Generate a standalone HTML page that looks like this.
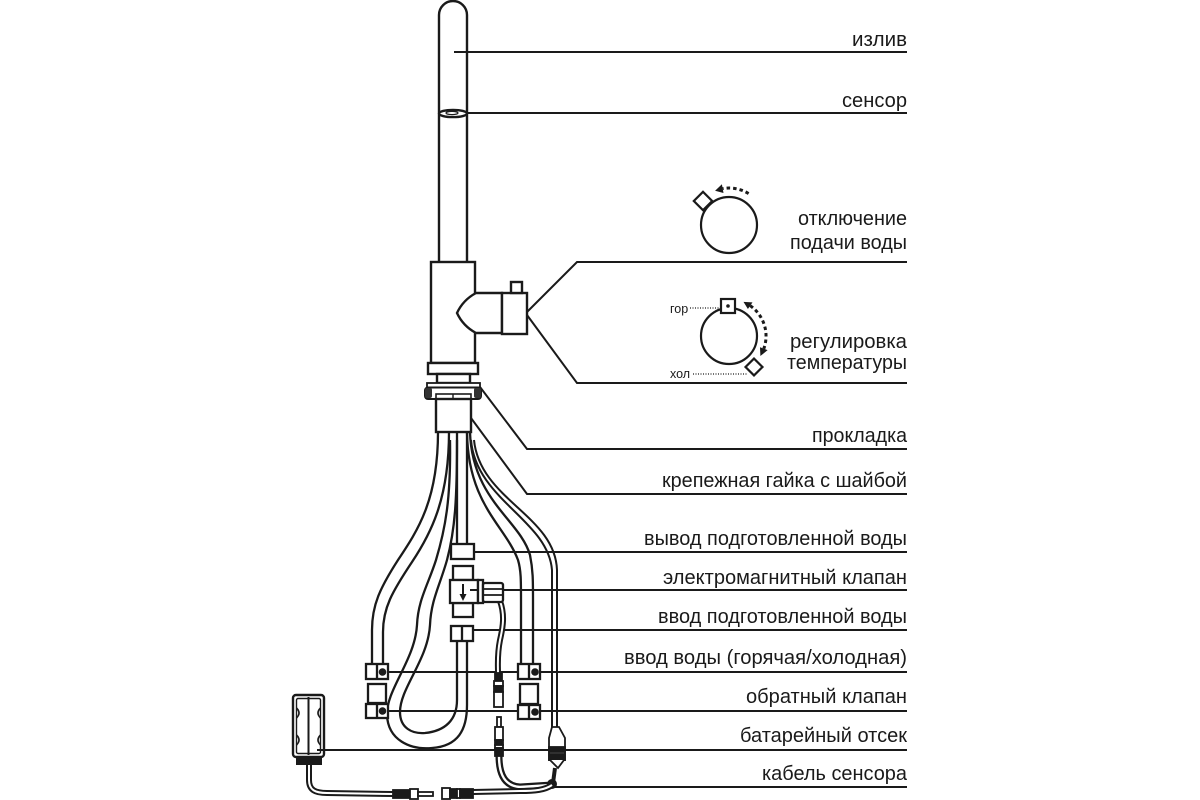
<!DOCTYPE html>
<html><head><meta charset="utf-8">
<style>
html,body{margin:0;padding:0;background:#fff;}
svg{display:block;}
text{font-family:"Liberation Sans","DejaVu Sans",sans-serif;fill:#1a1a1a;}
</style></head><body>
<svg width="1200" height="800" viewBox="0 0 1200 800" xmlns="http://www.w3.org/2000/svg">
<rect width="1200" height="800" fill="#fff"/>

<!-- label leader lines -->
<g stroke="#1a1a1a" stroke-width="2" fill="none">
  <path d="M454,52 H907"/>
  <path d="M467,113 H907"/>
  <path d="M527,312 L577,262 H907"/>
  <path d="M527,315 L577,383 H907"/>
  <path d="M480,387 L527,449 H907"/>
  <path d="M457,399 L527,494 H907"/>
  <path d="M463,552 H907"/>
  <path d="M470,590 H907"/>
  <path d="M472,630 H907"/>
  <path d="M382,672 H907"/>
  <path d="M382,711 H907"/>
  <path d="M317,750 H907"/>
  <path d="M552,787 H907"/>
</g>

<!-- labels -->
<g font-size="20">
  <text x="852" y="46" textLength="55" lengthAdjust="spacingAndGlyphs">излив</text>
  <text x="842" y="107" textLength="65" lengthAdjust="spacingAndGlyphs">сенсор</text>
  <text x="798" y="225" textLength="109" lengthAdjust="spacingAndGlyphs">отключение</text>
  <text x="790" y="249" textLength="117" lengthAdjust="spacingAndGlyphs">подачи воды</text>
  <text x="790" y="348" textLength="117" lengthAdjust="spacingAndGlyphs">регулировка</text>
  <text x="787" y="369" textLength="120" lengthAdjust="spacingAndGlyphs">температуры</text>
  <text x="812" y="442" textLength="95" lengthAdjust="spacingAndGlyphs">прокладка</text>
  <text x="662" y="487" textLength="245" lengthAdjust="spacingAndGlyphs">крепежная гайка с шайбой</text>
  <text x="644" y="545" textLength="263" lengthAdjust="spacingAndGlyphs">вывод подготовленной воды</text>
  <text x="663" y="584" textLength="244" lengthAdjust="spacingAndGlyphs">электромагнитный клапан</text>
  <text x="658" y="623" textLength="249" lengthAdjust="spacingAndGlyphs">ввод подготовленной воды</text>
  <text x="624" y="664" textLength="283" lengthAdjust="spacingAndGlyphs">ввод воды (горячая/холодная)</text>
  <text x="746" y="703" textLength="161" lengthAdjust="spacingAndGlyphs">обратный клапан</text>
  <text x="740" y="742" textLength="167" lengthAdjust="spacingAndGlyphs">батарейный отсек</text>
  <text x="762" y="780" textLength="145" lengthAdjust="spacingAndGlyphs">кабель сенсора</text>
</g>

<!-- dial 1 -->
<g stroke="#1a1a1a" stroke-width="2.2" fill="#fff">
  <rect x="-6.5" y="-6.5" width="13" height="13" transform="translate(703,201) rotate(45)"/>
  <circle cx="729" cy="225" r="28"/>
</g>
<path d="M748.6,193.6 A37,37 0 0 0 722.6,188.6" stroke="#1a1a1a" stroke-width="3" fill="none" stroke-dasharray="3.5 3"/>
<polygon points="715.1,190.7 721.9,184.2 723.5,193" fill="#1a1a1a"/>

<!-- dial 2 -->
<g stroke="#1a1a1a" stroke-width="2.2" fill="#fff">
  <rect x="-6" y="-6" width="12" height="12" transform="translate(754,367) rotate(45)"/>
  <circle cx="729" cy="336" r="28"/>
  <rect x="721" y="299" width="14" height="14"/>
</g>
<circle cx="728" cy="306" r="1.8" fill="#1a1a1a"/>
<path d="M750.2,305.7 A37,37 0 0 1 763.8,348.7" stroke="#1a1a1a" stroke-width="3" fill="none" stroke-dasharray="3.5 3"/>
<polygon points="743.5,301.9 752.5,302.4 747.9,309" fill="#1a1a1a"/>
<polygon points="760.4,356 767.6,350.1 760,347.3" fill="#1a1a1a"/>
<g stroke="#1a1a1a" stroke-width="1.2" stroke-dasharray="1 1.5">
  <path d="M690,308 H721"/>
  <path d="M693,374 H748"/>
</g>
<text x="670" y="313" font-size="12.5">гор</text>
<text x="670" y="378" font-size="12.5">хол</text>

<!-- spout -->
<g stroke="#1a1a1a" stroke-width="2.4" fill="none">
  <path d="M439,262 L439,15 A14,14 0 0 1 467,15 L467,262"/>
  <ellipse cx="453" cy="113.5" rx="14" ry="3.6"/>
  <ellipse cx="452" cy="113" rx="6" ry="1.6" stroke-width="1.2"/>
</g>

<!-- body -->
<g stroke="#1a1a1a" stroke-width="2.4" fill="#fff">
  <rect x="431" y="262" width="44" height="101"/>
  <path d="M476,293 L502,293 L502,333 L476,333 Q463,326 457,313 Q463,300 476,293 Z"/>
  <rect x="502" y="293" width="25" height="41"/>
  <rect x="511" y="282" width="11" height="11"/>
  <rect x="428" y="363" width="50" height="11"/>
  <rect x="437" y="374" width="33" height="9"/>
  <rect x="427" y="383" width="53" height="4.5" stroke-width="1.8"/>
  <rect x="425" y="387.5" width="56" height="11.5" rx="3" stroke-width="2"/>
  <rect x="436" y="394" width="35" height="5" stroke-width="1.6"/>
  <path d="M453,394 V399" stroke-width="1.4"/>
  <rect x="436" y="399" width="35" height="33"/>
</g>
<rect x="425" y="388" width="7" height="10" rx="2" fill="#333"/>
<rect x="474" y="388" width="7" height="10" rx="2" fill="#333"/>

<!-- hoses -->
<g stroke="#1a1a1a" stroke-width="2.3" fill="none">
  <!-- left hose -->
  <path d="M438,432 C438,500 418,530 398,560 C380,588 372,605 372,630 L372,664"/>
  <path d="M449,432 C449,500 430,535 412,562 C392,592 383,608 383,632 L383,664"/>
  <!-- loop hose -->
  <path d="M450,440 C451,500 445,530 436,560 C428,585 418,600 417,625 C415,660 386,690 387,715 C388,740 410,750 432,748 C458,746 467,730 467,705 L467,641"/>
  <path d="M457,440 C457,500 455,530 447,560 C440,585 431,600 430,625 C428,660 400,688 400,712 C400,728 412,734 425,733 C445,731 457,720 457,700 L457,641"/>
  <!-- center tube -->
  <path d="M457,432 L457,544"/>
  <path d="M467,432 L467,544"/>
  <!-- right hose -->
  <path d="M467,432 C468,505 505,525 518,560 C521,570 521,580 521,600 L521,664"/>
  <path d="M470,432 C472,500 520,520 530,555 C533,570 533,580 533,600 L533,664"/>
  <!-- cable -->
  <path d="M471,440 C476,500 548,520 552,570 L552,727" stroke-width="2"/>
  <path d="M474,440 C480,500 555,515 557,570 L557,727" stroke-width="2"/>
</g>

<!-- coil wire -->
<path d="M500,601 C505,615 503,627 500,640 C497,655 498,665 498,673" stroke="#1a1a1a" stroke-width="6" fill="none"/>
<path d="M500,601 C505,615 503,627 500,640 C497,655 498,665 498,673" stroke="#fff" stroke-width="2" fill="none"/>

<!-- valve -->
<g stroke="#1a1a1a" stroke-width="2.3" fill="#fff">
  <rect x="451" y="544" width="23" height="15"/>
  <rect x="453" y="566" width="20" height="14"/>
  <rect x="453" y="603" width="20" height="14"/>
  <rect x="450" y="580" width="28" height="23"/>
  <rect x="478" y="580" width="5" height="23"/>
  <rect x="483" y="583" width="20" height="19" rx="2"/>
  <path d="M483,589 H503 M483,595 H503" fill="none" stroke-width="1.8"/>
  <rect x="451" y="626" width="22" height="15"/>
  <path d="M462,626 V641" fill="none"/>
</g>
<path d="M463,584 V595" stroke="#1a1a1a" stroke-width="2"/>
<polygon points="459.5,594 466.5,594 463,601" fill="#1a1a1a"/>
<path d="M470,590 H478" stroke="#1a1a1a" stroke-width="2"/>

<!-- inlet fittings -->
<g stroke="#1a1a1a" stroke-width="2.3" fill="#fff">
  <rect x="366" y="664" width="22" height="15"/>
  <path d="M377,664 V679"/>
  <rect x="368" y="684" width="18" height="19"/>
  <rect x="366" y="704" width="22" height="14"/>
  <path d="M377,704 V718"/>
  <rect x="518" y="664" width="22" height="15"/>
  <path d="M529,664 V679"/>
  <rect x="520" y="684" width="18" height="20"/>
  <rect x="518" y="705" width="22" height="14"/>
  <path d="M529,705 V719"/>
</g>
<g fill="#1a1a1a">
  <circle cx="382.5" cy="672" r="3.8"/>
  <circle cx="382.5" cy="711" r="3.8"/>
  <circle cx="535" cy="672" r="3.8"/>
  <circle cx="535" cy="712" r="3.8"/>
</g>

<!-- upper plug -->
<g stroke="#1a1a1a" stroke-width="1.8">
  <rect x="495" y="673" width="7" height="8" fill="#1a1a1a"/>
  <rect x="494" y="681" width="9" height="5" fill="#fff"/>
  <rect x="494" y="686" width="9" height="6" fill="#1a1a1a"/>
  <rect x="494" y="692" width="9" height="15" fill="#fff"/>
</g>

<!-- lower plug + wires -->
<path d="M499,756 C499,775 505,786 520,787 L552,785" stroke="#1a1a1a" stroke-width="7" fill="none"/>
<path d="M499,756 C499,775 505,786 520,787 L552,785" stroke="#fff" stroke-width="2.4" fill="none"/>
<g stroke="#1a1a1a" stroke-width="1.8">
  <rect x="497" y="717" width="4" height="10" fill="#fff"/>
  <rect x="495" y="727" width="8" height="13" fill="#fff"/>
  <rect x="495" y="740" width="8" height="5" fill="#1a1a1a"/>
  <rect x="495" y="745" width="8" height="3" fill="#fff"/>
  <rect x="495" y="748" width="8" height="8" fill="#1a1a1a"/>
</g>

<!-- cable connector -->
<g stroke="#1a1a1a" stroke-width="1.8">
  <path d="M552,727 L549,738 L549,760 L565,760 L565,738 L559,727 Z" fill="#fff"/>
  <rect x="549" y="747" width="16" height="5" fill="#1a1a1a"/>
  <rect x="549" y="754" width="16" height="6" fill="#1a1a1a"/>
  <path d="M550,760 L558,768 L564,760" fill="#fff"/>
</g>
<path d="M555,768 L553,783" stroke="#1a1a1a" stroke-width="4"/>
<circle cx="552" cy="784" r="5" fill="#1a1a1a"/>

<!-- cable to left -->
<path d="M552,785 C545,790 535,791 520,791 L473,792" stroke="#1a1a1a" stroke-width="6" fill="none"/>
<path d="M552,785 C545,790 535,791 520,791 L473,792" stroke="#fff" stroke-width="2" fill="none"/>

<!-- bottom connectors -->
<g stroke="#1a1a1a" stroke-width="1.8">
  <rect x="442" y="788" width="8" height="11" fill="#fff"/>
  <rect x="450" y="789" width="7" height="9" fill="#1a1a1a"/>
  <rect x="457" y="789" width="3" height="9" fill="#fff"/>
  <rect x="460" y="789" width="13" height="9" fill="#1a1a1a"/>
</g>

<!-- battery cable -->
<path d="M309,765 L309,780 C309,790 315,793 327,793 L393,794" stroke="#1a1a1a" stroke-width="6" fill="none"/>
<path d="M309,765 L309,780 C309,790 315,793 327,793 L393,794" stroke="#fff" stroke-width="2" fill="none"/>
<g stroke="#1a1a1a" stroke-width="1.8">
  <rect x="393" y="790" width="17" height="8" fill="#1a1a1a"/>
  <rect x="410" y="789" width="8" height="10" fill="#fff"/>
  <rect x="418" y="792" width="15" height="4" fill="#fff"/>
</g>

<!-- battery box -->
<g stroke="#1a1a1a" fill="none">
  <rect x="293" y="695" width="31" height="62" rx="3" stroke-width="2.4" fill="#fff"/>
  <rect x="296.5" y="698.5" width="24" height="55" rx="1.5" stroke-width="1.4"/>
  <path d="M308.5,697 V755" stroke-width="2"/>
  <path d="M296.5,708 q5,5 0,10 M296.5,735 q5,5 0,10 M320.5,708 q-5,5 0,10 M320.5,735 q-5,5 0,10" stroke-width="1.6"/>
</g>
<path d="M317,750 H324" stroke="#1a1a1a" stroke-width="2"/>
<rect x="296" y="757" width="26" height="8" fill="#1a1a1a"/>

</svg>
</body></html>
